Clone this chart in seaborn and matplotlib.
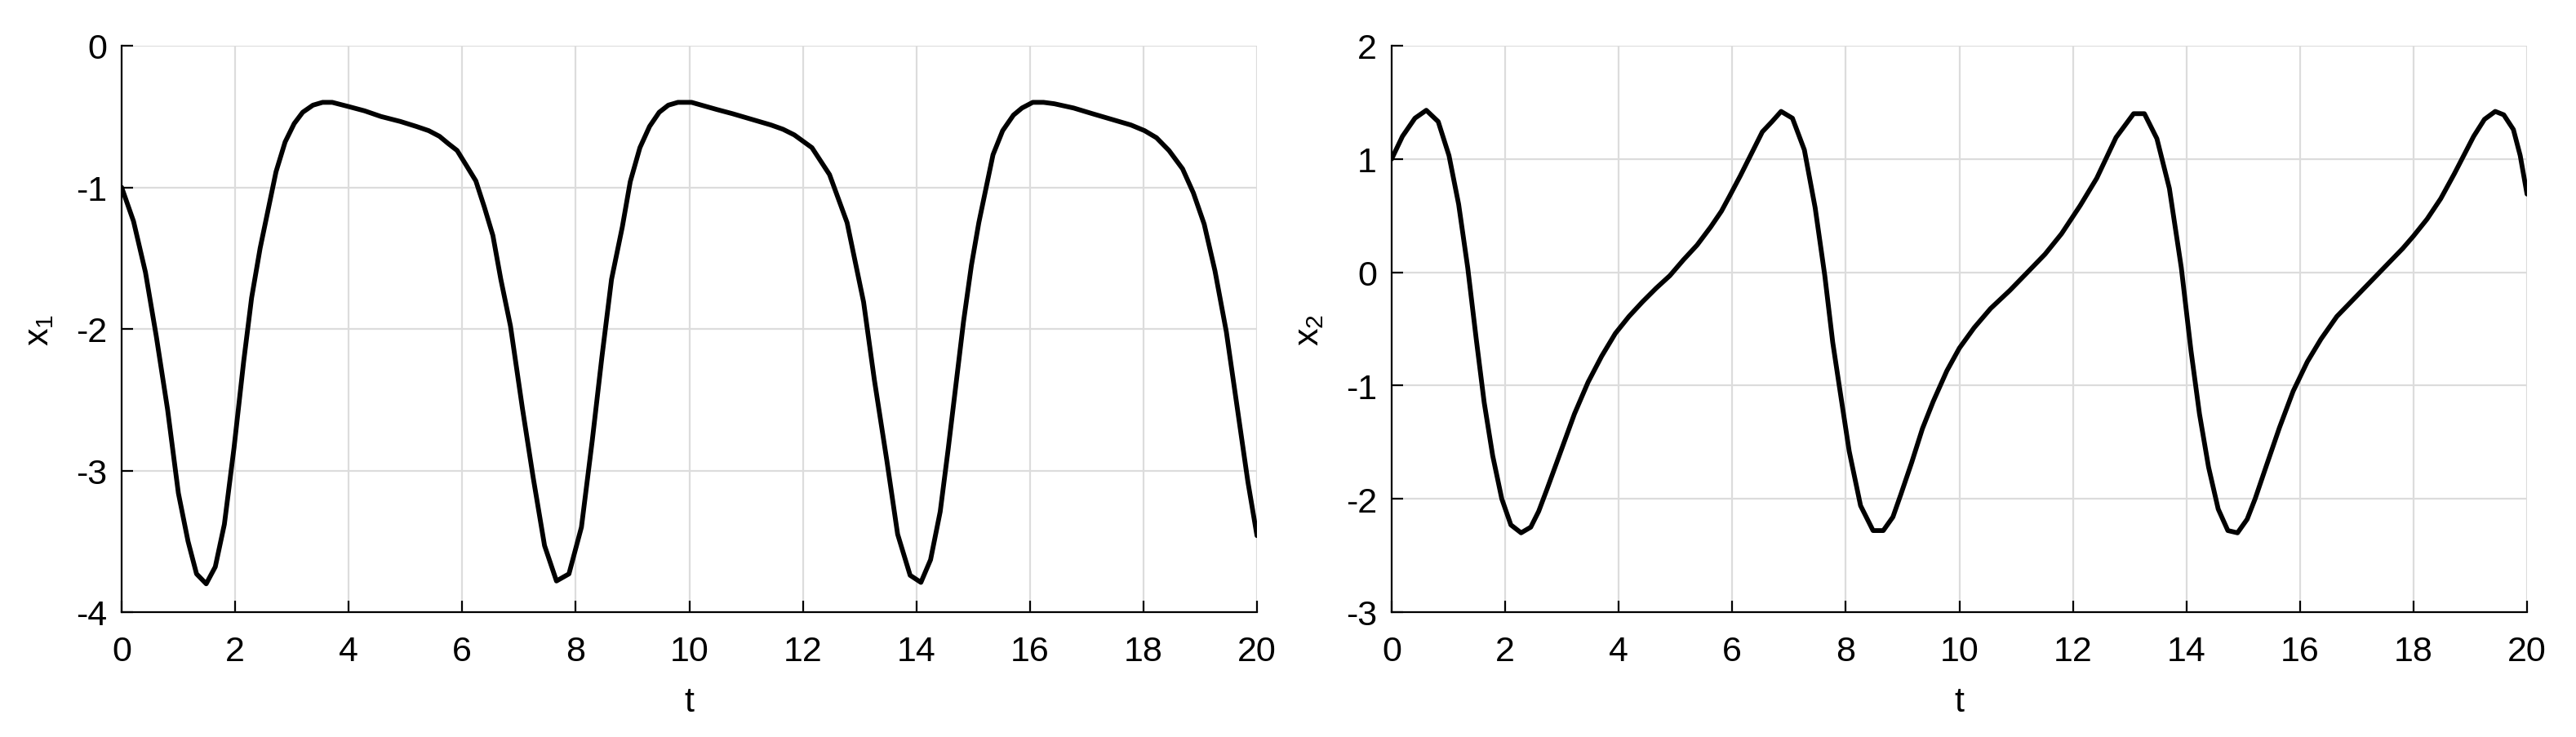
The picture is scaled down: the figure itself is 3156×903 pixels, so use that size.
import numpy as np
import pandas as pd
import matplotlib
matplotlib.use("Agg")
import matplotlib.pyplot as plt
import seaborn as sns

# ---------------- data ----------------
t1 = [0, 0.21, 0.42, 0.61, 0.81, 1.00, 1.17, 1.32, 1.49, 1.65,
      1.81, 1.98, 2.15, 2.29, 2.44, 2.58, 2.72, 2.88, 3.04, 3.19,
      3.37, 3.54, 3.71, 4.00, 4.28, 4.57, 4.91, 5.19, 5.41, 5.60,
      5.75, 5.91, 6.08, 6.24, 6.39, 6.54, 6.68, 6.85, 7.06, 7.25,
      7.45, 7.66, 7.88, 8.10, 8.29, 8.46, 8.63, 8.82, 8.96, 9.13,
      9.30, 9.47, 9.63, 9.80, 10.04, 10.48, 10.76, 11.10, 11.44, 11.65,
      11.85, 12.16, 12.47, 12.78, 13.07, 13.26, 13.48, 13.67, 13.89, 14.08,
      14.25, 14.42, 14.56, 14.68, 14.83, 14.97, 15.10, 15.23, 15.35, 15.52,
      15.71, 15.86, 16.05, 16.24, 16.43, 16.77, 17.10, 17.44, 17.78, 18.02,
      18.23, 18.45, 18.69, 18.88, 19.07, 19.26, 19.46, 19.65, 19.84, 20.0]
x1 = [-1.0, -1.24, -1.60, -2.05, -2.57, -3.16, -3.50, -3.73, -3.80, -3.68,
      -3.38, -2.84, -2.23, -1.78, -1.43, -1.16, -0.89, -0.68, -0.55, -0.47,
      -0.42, -0.40, -0.40, -0.43, -0.46, -0.50, -0.535, -0.57, -0.60, -0.64,
      -0.69, -0.74, -0.85, -0.955, -1.14, -1.34, -1.65, -1.98, -2.56, -3.05,
      -3.53, -3.78, -3.73, -3.40, -2.79, -2.20, -1.65, -1.28, -0.96, -0.72,
      -0.57, -0.47, -0.42, -0.40, -0.40, -0.45, -0.48, -0.52, -0.56, -0.59,
      -0.63, -0.72, -0.91, -1.25, -1.81, -2.36, -2.93, -3.45, -3.74, -3.79,
      -3.63, -3.29, -2.85, -2.45, -1.95, -1.55, -1.25, -1.0, -0.77, -0.60,
      -0.49, -0.44, -0.40, -0.40, -0.41, -0.44, -0.48, -0.52, -0.56, -0.60,
      -0.65, -0.74, -0.87, -1.04, -1.26, -1.59, -2.02, -2.55, -3.08, -3.46]

t2 = [0, 0.19, 0.41, 0.61, 0.82, 1.01, 1.18, 1.34, 1.49, 1.63,
      1.78, 1.94, 2.10, 2.28, 2.45, 2.59, 2.74, 2.98, 3.22, 3.46,
      3.70, 3.94, 4.18, 4.42, 4.66, 4.90, 5.14, 5.38, 5.62, 5.81,
      5.95, 6.14, 6.34, 6.53, 6.70, 6.86, 7.06, 7.27, 7.46, 7.63,
      7.77, 7.89, 8.06, 8.26, 8.48, 8.66, 8.83, 8.97, 9.16, 9.35,
      9.54, 9.78, 10.00, 10.26, 10.55, 10.89, 11.22, 11.51, 11.80, 12.13,
      12.42, 12.76, 13.07, 13.26, 13.48, 13.70, 13.91, 14.08, 14.23, 14.39,
      14.56, 14.73, 14.90, 15.07, 15.21, 15.40, 15.64, 15.88, 16.13, 16.37,
      16.65, 16.94, 17.23, 17.52, 17.81, 18.00, 18.24, 18.48, 18.72, 19.06,
      19.25, 19.44, 19.59, 19.76, 19.88, 20.0]
x2 = [1.0, 1.20, 1.36, 1.43, 1.33, 1.03, 0.60, 0.04, -0.59, -1.15,
      -1.62, -2.00, -2.23, -2.30, -2.25, -2.11, -1.91, -1.58, -1.25, -0.97,
      -0.74, -0.54, -0.39, -0.26, -0.14, -0.03, 0.11, 0.24, 0.40, 0.54,
      0.67, 0.85, 1.05, 1.24, 1.33, 1.42, 1.36, 1.08, 0.57, -0.03,
      -0.62, -1.02, -1.58, -2.06, -2.28, -2.28, -2.16, -1.96, -1.68, -1.38,
      -1.14, -0.87, -0.67, -0.49, -0.32, -0.16, 0.01, 0.16, 0.34, 0.59,
      0.83, 1.19, 1.40, 1.40, 1.18, 0.74, 0.04, -0.69, -1.25, -1.72,
      -2.09, -2.28, -2.30, -2.18, -2.00, -1.72, -1.37, -1.05, -0.79, -0.59,
      -0.39, -0.24, -0.09, 0.06, 0.21, 0.32, 0.47, 0.65, 0.87, 1.20,
      1.35, 1.42, 1.39, 1.26, 1.03, 0.69]

x_ticks = [0, 2, 4, 6, 8, 10, 12, 14, 16, 18, 20]
y1_ticks = [-4, -3, -2, -1, 0]
y2_ticks = [-3, -2, -1, 0, 1, 2]
x_label = "t"
y1_label = r"$\mathregular{x_1}$"
y2_label = r"$\mathregular{x_2}$"

# ---------------- style ----------------
sns.set_theme(style="whitegrid")
plt.rcParams["font.family"] = ["Liberation Sans", "DejaVu Sans"]
plt.rcParams["mathtext.fontset"] = "custom"
plt.rcParams["mathtext.rm"] = "Liberation Sans"
plt.rcParams["mathtext.default"] = "regular"

FS = 15.5
fig = plt.figure(figsize=(15.78, 4.52), dpi=200)
fig.patch.set_facecolor("white")

W, H = 3156, 904
def pos(x0, x1p, y0, y1p):
    return [x0 / W, 1 - y1p / H, (x1p - x0) / W, (y1p - y0) / H]

ax1 = fig.add_axes(pos(149, 1540, 57, 751))
ax2 = fig.add_axes(pos(1705, 3096, 57, 751))

df1 = pd.DataFrame({"t": t1, "x": x1})
df2 = pd.DataFrame({"t": t2, "x": x2})

for ax, df, yt, ylab in [(ax1, df1, y1_ticks, y1_label), (ax2, df2, y2_ticks, y2_label)]:
    sns.lineplot(data=df, x="t", y="x", ax=ax, color="black", linewidth=2.1,
                 sort=False, estimator=None)
    ax.set_facecolor("white")
    ax.set_xlim(0, 20)
    ax.set_ylim(min(yt), max(yt))
    ax.set_xticks(x_ticks)
    ax.set_yticks(yt)
    ax.set_xticklabels([str(v) for v in x_ticks])
    ax.set_yticklabels([str(v) for v in yt])
    ax.grid(True, color="#dcdcdc", linewidth=0.8)
    ax.set_axisbelow(True)
    for s in ["top", "right"]:
        ax.spines[s].set_visible(False)
    for s in ["left", "bottom"]:
        ax.spines[s].set_visible(True)
        ax.spines[s].set_color("black")
        ax.spines[s].set_linewidth(0.8)
    ax.tick_params(axis="both", direction="in", length=5, width=0.8,
                   colors="black", labelsize=FS, labelcolor="black")
    ax.tick_params(axis="x", pad=10)
    ax.tick_params(axis="y", pad=6.5)
    ax.tick_params(left=True, bottom=True)
    ax.set_xlabel(x_label, fontsize=FS, color="black", labelpad=8)
    ax.set_ylabel(ylab, fontsize=FS, color="black", labelpad=9)

fig.savefig("out.png", dpi=200, facecolor="white")
